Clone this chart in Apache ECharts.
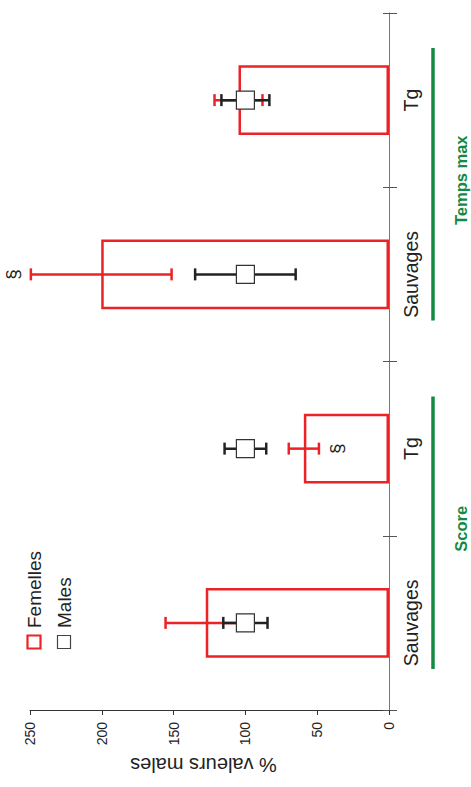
<!DOCTYPE html>
<html>
<head>
<meta charset="utf-8">
<script src="https://cdn.jsdelivr.net/npm/echarts@6/dist/echarts.min.js"></script>
<style>
  html, body { margin: 0; padding: 0; background: #fff; }
  #chart { width: 471px; height: 787px; }
</style>
</head>
<body>
<div id="chart"></div>
<script>
  // the figure is a column chart turned a quarter left: categories run bottom -> top
  const categories = ['Sauvages', 'Tg', 'Sauvages', 'Tg']
  const groups = ['Score', 'Temps max']
  const groupCats = [[0, 1], [2, 3]]

  const femelles = [127.6, 59.3, 200.4, 104.8]
  const femellesErr = [28, 10.5, 49, 16.7]
  const males = [100, 100, 100, 100]
  const malesErr = [15.4, 14.5, 35, 16.7]
  const sigMarks = ['', '§', '§', '']
  const sigSide = [0, -1, 1, 0]

  const RED = '#ec2227'
  const GREEN = '#138a43'
  const INK = '#222'
  const FONT = 'Liberation Sans, Arial, sans-serif'

  const errRows = (vals, errs) => vals.map((v, i) => [v - errs[i], v + errs[i], i])
  const sigRows = sigMarks
    .map((m, i) => m ? [sigSide[i] > 0 ? femelles[i] + femellesErr[i] : femelles[i] - femellesErr[i], i, sigSide[i], m] : null)
    .filter(Boolean)

  const errorItem = (color, width) => (params, api) => {
    const idx = api.value(2)
    const lo = api.coord([api.value(0), idx])
    const hi = api.coord([api.value(1), idx])
    const cap = 6
    const style = { stroke: color, lineWidth: width }
    return {
      type: 'group',
      children: [
        { type: 'line', shape: { x1: lo[0], y1: lo[1], x2: hi[0], y2: hi[1] }, style },
        { type: 'line', shape: { x1: lo[0], y1: lo[1] - cap, x2: lo[0], y2: lo[1] + cap }, style },
        { type: 'line', shape: { x1: hi[0], y1: hi[1] - cap, x2: hi[0], y2: hi[1] + cap }, style }
      ]
    }
  }

  const chart = echarts.init(document.getElementById('chart'), null, { renderer: 'svg' })

  const option = {
    animation: false,
    textStyle: { fontFamily: FONT, color: INK },
    grid: { left: 30, right: 82, top: 13, bottom: 77, containLabel: false },
    xAxis: {
      type: 'value',
      inverse: true,
      min: 0,
      max: 250,
      interval: 50,
      position: 'bottom',
      name: '% valeurs males',
      nameLocation: 'middle',
      nameRotate: 180,
      nameGap: 45,
      nameTextStyle: { fontSize: 20, color: INK, fontFamily: FONT, padding: [0, 0, 0, 12] },
      splitLine: { show: false },
      axisLine: { show: true, lineStyle: { color: '#333', width: 1 } },
      axisTick: { show: true, length: 5, lineStyle: { color: '#333' } },
      axisLabel: { rotate: 90, fontSize: 14, margin: 12, color: INK, fontFamily: FONT }
    },
    yAxis: [
      {
        type: 'category',
        data: categories,
        position: 'right',
        axisLine: { show: true, onZero: false, lineStyle: { color: '#777', width: 1 } },
        axisTick: { show: true, length: 8, lineStyle: { color: '#555' } },
        axisLabel: { rotate: 90, fontSize: 19.5, margin: 12, color: INK, fontFamily: FONT },
        splitLine: { show: false }
      },
      {
        // inner half of the crossing ticks
        type: 'category',
        data: categories,
        position: 'left',
        offset: -359,
        axisLine: { show: false, onZero: false },
        axisTick: { show: true, length: 6, lineStyle: { color: '#555' } },
        axisLabel: { show: false },
        splitLine: { show: false }
      }
    ],
    series: [
      {
        name: 'Femelles',
        type: 'bar',
        yAxisIndex: 0,
        data: femelles,
        barWidth: '40%',
        itemStyle: { color: 'rgba(255,255,255,0)', borderColor: RED, borderWidth: 2.5 },
        z: 2
      },
      {
        type: 'custom',
        yAxisIndex: 0,
        renderItem: errorItem(RED, 2.5),
        encode: { x: [0, 1], y: 2 },
        data: errRows(femelles, femellesErr),
        z: 3
      },
      {
        type: 'custom',
        yAxisIndex: 0,
        renderItem: errorItem('#222', 2.5),
        encode: { x: [0, 1], y: 2 },
        data: errRows(males, malesErr),
        z: 4
      },
      {
        name: 'Males',
        type: 'scatter',
        yAxisIndex: 0,
        symbol: 'rect',
        symbolSize: 18,
        data: males.map((v, i) => [v, i]),
        itemStyle: { color: '#fff', borderColor: '#333', borderWidth: 1.2, opacity: 1 },
        z: 5
      },
      {
        type: 'custom',
        yAxisIndex: 0,
        clip: false,
        encode: { x: 0, y: 1 },
        data: sigRows,
        renderItem: (params, api) => {
          const p = api.coord([api.value(0), api.value(1)])
          const side = api.value(2)
          return {
            type: 'text',
            x: p[0] - side * 18,
            y: p[1],
            rotation: Math.PI / 2,
            style: { text: sigRows[params.dataIndex][3], fontSize: 19, fontFamily: FONT, fill: INK, align: 'center', verticalAlign: 'middle' }
          }
        },
        z: 6
      }
    ]
  }

  chart.setOption(option)

  // legend + group brackets, placed from the axes
  const axisX = chart.convertToPixel({ xAxisIndex: 0 }, 0)
  const cy = (i) => chart.convertToPixel({ yAxisIndex: 0 }, i)
  const band = cy(0) - cy(1)

  const graphic = []
  groups.forEach((g, k) => {
    const [a, b] = groupCats[k]
    const bottom = cy(a) + band / 2
    const top = cy(b) - band / 2
    graphic.push({
      type: 'line',
      shape: { x1: axisX + 44, y1: top + 35, x2: axisX + 44, y2: bottom - 41 },
      style: { stroke: GREEN, lineWidth: 3.5 }
    })
    graphic.push({
      type: 'text',
      x: axisX + 72,
      y: (top + bottom) / 2 - 7,
      rotation: Math.PI / 2,
      style: {
        text: g, fontSize: 16.5, fontWeight: 'bold',
        fontFamily: FONT,
        fill: GREEN, align: 'center', verticalAlign: 'middle'
      }
    })
  })

  const legendItems = [
    { name: 'Femelles', color: RED, width: 2.2, x: 34 },
    { name: 'Males', color: '#444', width: 1.2, x: 64 }
  ]
  legendItems.forEach((it) => {
    graphic.push({
      type: 'rect',
      shape: { x: it.x - 6.5, y: 635.5, width: 13, height: 13 },
      style: { fill: 'none', stroke: it.color, lineWidth: it.width }
    })
    graphic.push({
      type: 'text',
      x: it.x,
      y: 628,
      rotation: Math.PI / 2,
      style: { text: it.name, fontSize: 19, fontFamily: FONT, fill: INK, align: 'left', verticalAlign: 'middle' }
    })
  })

  chart.setOption({ graphic })
</script>
</body>
</html>
